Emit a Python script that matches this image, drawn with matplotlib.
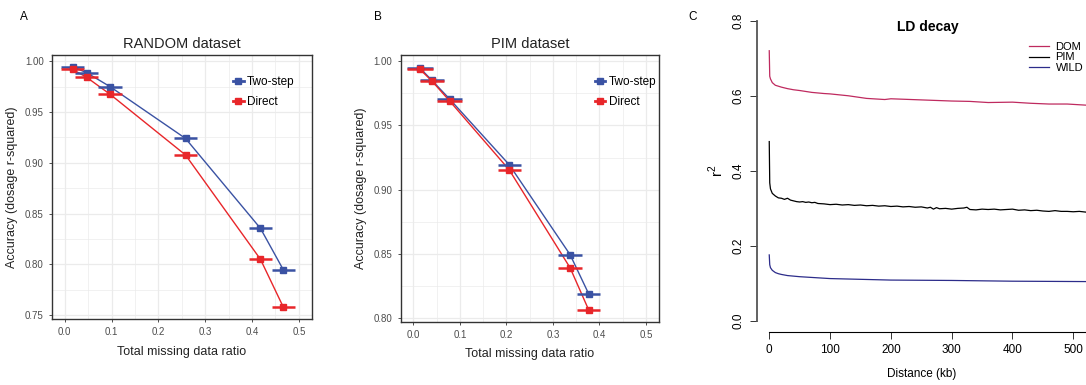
import matplotlib.pyplot as plt
import numpy as np
from matplotlib.lines import Line2D

plt.rcParams['font.family'] = ['Liberation Sans', 'DejaVu Sans']

# Panel A - RANDOM dataset
rand_x = [0.017, 0.047, 0.097, 0.258, 0.418, 0.467]
rand_two = [0.9945, 0.9888, 0.975, 0.924, 0.8354, 0.7944]
rand_direct = [0.992, 0.9842, 0.9675, 0.9077, 0.8049, 0.7576]
rand_xerr = [0.024, 0.024, 0.025, 0.025, 0.025, 0.025]

# Panel B - PIM dataset
pim_x = [0.0145, 0.040, 0.078, 0.206, 0.337, 0.377]
pim_two = [0.9945, 0.985, 0.9705, 0.9195, 0.8495, 0.8190]
pim_direct = [0.9935, 0.9845, 0.969, 0.9155, 0.8393, 0.8065]
pim_xerr = [0.028, 0.026, 0.026, 0.025, 0.026, 0.025]

# Panel C - LD decay
dom_d = [0, 0.8, 2, 5, 10, 20, 30, 40, 50, 70, 90, 100, 130, 160, 190, 200, 250, 300,
         330, 360, 400, 430, 460, 490, 521]
dom_r2 = [0.72, 0.652, 0.645, 0.635, 0.628, 0.623, 0.619, 0.616, 0.614, 0.609, 0.606,
          0.605, 0.600, 0.593, 0.590, 0.592, 0.589, 0.586, 0.585, 0.582, 0.583, 0.580,
          0.578, 0.578, 0.575]

pim_d = [0, 0.8, 2, 5, 10, 15, 20, 25, 30, 35, 40, 45, 50, 55, 60, 65, 70, 75, 80, 90,
         100, 110, 120, 130, 140, 150, 160, 170, 180, 190, 200, 210, 220, 230, 240, 250,
         260, 265, 270, 275, 280, 290, 300, 310, 320, 325, 330, 340, 350, 360, 370, 380,
         390, 400, 410, 420, 430, 440, 450, 460, 470, 480, 490, 500, 510, 521]
pim_r2 = [0.478, 0.368, 0.352, 0.340, 0.333, 0.328, 0.327, 0.324, 0.327, 0.322, 0.320,
          0.318, 0.317, 0.318, 0.316, 0.317, 0.315, 0.316, 0.313, 0.312, 0.310, 0.311,
          0.309, 0.310, 0.308, 0.309, 0.307, 0.308, 0.306, 0.307, 0.305, 0.306, 0.304,
          0.305, 0.303, 0.304, 0.301, 0.303, 0.298, 0.302, 0.299, 0.300, 0.298, 0.300,
          0.301, 0.303, 0.297, 0.296, 0.298, 0.297, 0.298, 0.296, 0.297, 0.298, 0.295,
          0.296, 0.294, 0.295, 0.293, 0.292, 0.294, 0.292, 0.292, 0.291, 0.292, 0.290]

wild_d = [0, 0.8, 2, 5, 10, 15, 20, 30, 50, 80, 100, 150, 200, 300, 400, 521]
wild_r2 = [0.176, 0.150, 0.142, 0.135, 0.129, 0.126, 0.124, 0.121, 0.118, 0.115, 0.113,
           0.111, 0.109, 0.108, 0.106, 0.105]

blue = "#3A52A3"
red = "#E8262A"


def gg_panel(ax, x, two, direct, xerr, title, ylim, yticks, minor_y, legend_x):
    ax.set_facecolor("white")
    for v in np.arange(0, 0.55, 0.05):
        ax.axvline(v, color="#EBEBEB", lw=0.9 if round(v * 20) % 2 == 0 else 0.5, zorder=0)
    for v in minor_y:
        ax.axhline(v, color="#EBEBEB", lw=0.5, zorder=0)
    for v in yticks:
        ax.axhline(v, color="#EBEBEB", lw=0.9, zorder=0)
    ax.plot(x, two, color=blue, lw=1.0, zorder=2)
    ax.plot(x, direct, color=red, lw=1.0, zorder=2)
    ax.errorbar(x, two, xerr=xerr, fmt="s", color=blue, ms=4, elinewidth=1.8,
                capsize=0, zorder=3)
    ax.errorbar(x, direct, xerr=xerr, fmt="s", color=red, ms=4, elinewidth=1.8,
                capsize=0, zorder=3)
    ax.set_xlim(-0.027, 0.528)
    ax.set_ylim(*ylim)
    ax.set_xticks([0.0, 0.1, 0.2, 0.3, 0.4, 0.5])
    ax.set_xticklabels(["0.0", "0.1", "0.2", "0.3", "0.4", "0.5"])
    ax.set_yticks(yticks)
    ax.set_yticklabels([f"{v:.2f}" for v in yticks])
    ax.tick_params(labelsize=7, labelcolor="#4D4D4D", color="#333333", length=2.5, width=0.6)
    for s in ax.spines.values():
        s.set_color("#333333")
        s.set_linewidth(1.0)
    ax.set_xlabel("Total missing data ratio", fontsize=9, color="#222222", labelpad=6)
    ax.set_ylabel("Accuracy (dosage r-squared)", fontsize=9, color="#222222", labelpad=5)
    ax.set_title(title, fontsize=10.5, color="#222222", pad=5)
    handles = [Line2D([], [], color=blue, marker="s", ms=4, lw=2),
               Line2D([], [], color=red, marker="s", ms=4, lw=2)]
    ax.legend(handles, ["Two-step", "Direct"], loc="upper left",
              bbox_to_anchor=(legend_x, 0.96), frameon=False, fontsize=8.5,
              handlelength=0.9, handletextpad=0.3, labelspacing=0.65)


fig = plt.figure(figsize=(10.86, 3.85), dpi=100)

axA = fig.add_axes([0.0479, 0.1714, 0.2394, 0.6857])
gg_panel(axA, rand_x, rand_two, rand_direct, rand_xerr, "RANDOM dataset",
         (0.7461, 1.0062), [0.75, 0.80, 0.85, 0.90, 0.95, 1.00],
         [0.775, 0.825, 0.875, 0.925, 0.975], 0.655)

axB = fig.add_axes([0.369, 0.1644, 0.2378, 0.6927])
gg_panel(axB, pim_x, pim_two, pim_direct, pim_xerr, "PIM dataset",
         (0.7974, 1.0047), [0.80, 0.85, 0.90, 0.95, 1.00],
         [0.825, 0.875, 0.925, 0.975], 0.71)

# Panel C, base R look
axC = fig.add_axes([0.6973, 0.1377, 0.3027, 0.8371])
axC.plot(dom_d, dom_r2, color="#BF2A5F", lw=0.9)
axC.plot(pim_d, pim_r2, color="black", lw=0.9)
axC.plot(wild_d, wild_r2, color="#2C2C8A", lw=0.9)
axC.set_xlim(-19.7, 520.9)
axC.set_ylim(-0.0293, 0.8293)
axC.spines["top"].set_visible(False)
axC.spines["right"].set_visible(False)
axC.spines["left"].set_bounds(0, 0.8)
axC.spines["left"].set_linewidth(1.3)
axC.spines["left"].set_color("#555555")
axC.spines["bottom"].set_bounds(0, 521)
axC.spines["bottom"].set_linewidth(0.8)
axC.set_yticks([0.0, 0.2, 0.4, 0.6, 0.8])
axC.set_yticklabels(["0.0", "0.2", "0.4", "0.6", "0.8"], rotation=90, va="center")
axC.set_xticks([0, 100, 200, 300, 400, 500])
axC.tick_params(labelsize=8.5, length=5, width=0.7, color="#333333")
axC.tick_params(axis="y", pad=4)
axC.set_xlabel("Distance (kb)", fontsize=8.5, labelpad=9)
axC.set_ylabel("r$^{\\mathregular{2}}$", fontsize=10.5, labelpad=5)
axC.text(0.519, 0.946, "LD decay", transform=axC.transAxes, fontsize=10,
         fontweight="bold", ha="center", va="center")
axC.legend(["DOM", "PIM", "WILD"], loc="upper left", bbox_to_anchor=(0.826, 0.9),
           frameon=False, fontsize=8, handlelength=1.8, labelspacing=0.05,
           handletextpad=0.6, borderpad=0, borderaxespad=0)

fig.text(0.018, 0.955, "A", fontsize=8.5, va="center", ha="left")
fig.text(0.344, 0.955, "B", fontsize=8.5, va="center", ha="left")
fig.text(0.634, 0.955, "C", fontsize=8.5, va="center", ha="left")

fig.savefig("out.png", dpi=100)
